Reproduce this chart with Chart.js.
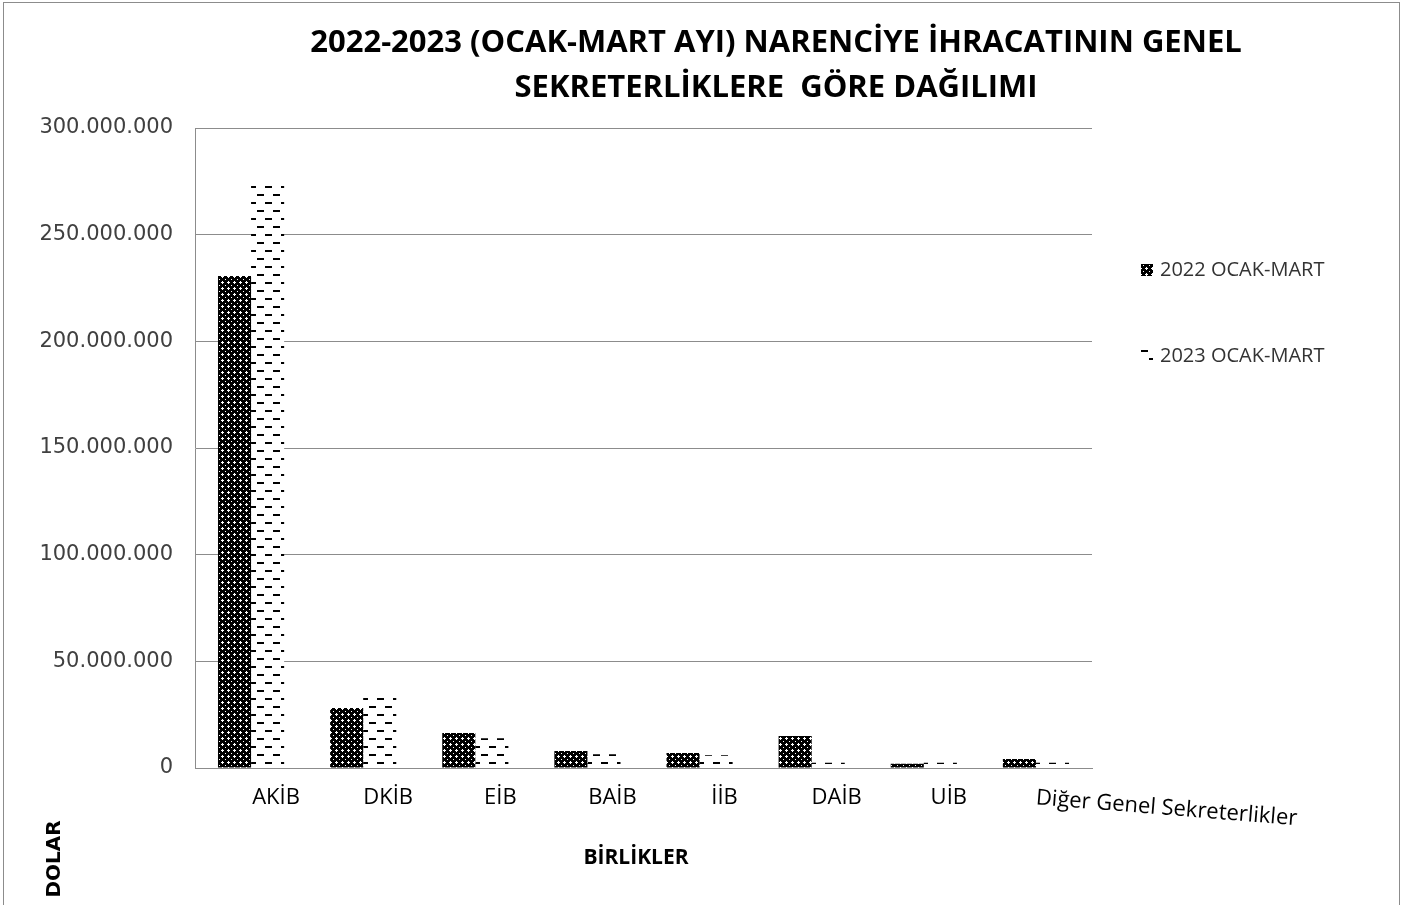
<!DOCTYPE html>
<html>
<head>
<meta charset="utf-8">
<script src="https://cdn.jsdelivr.net/npm/chart.js@4/dist/chart.umd.min.js"></script>
<style>
  html, body { margin:0; padding:0; background:#fff; }
  canvas { display:block; }
</style>
</head>
<body>
<canvas id="chart" width="1408" height="905"></canvas>
<script>
// data
const categories = ["AKİB","DKİB","EİB","BAİB","İİB","DAİB","UİB","Diğer Genel Sekreterlikler"];
const seriesNames = ["2022 OCAK-MART","2023 OCAK-MART"];
const values2022 = [230600000, 28100000, 16400000, 8000000, 7000000, 15000000, 2000000, 4200000];
const values2023 = [272800000, 32800000, 14000000, 6500000, 6000000, 2500000, 2500000, 2500000];
const yTicks = [0, 50000000, 100000000, 150000000, 200000000, 250000000, 300000000];
const titleLines = ["2022-2023 (OCAK-MART AYI) NARENCİYE İHRACATININ GENEL","SEKRETERLİKLERE  GÖRE DAĞILIMI"];
const xTitle = "BİRLİKLER";
const yTitle = "DOLAR";

const GRID = "#8c8c8c";

// hatch patterns like the office chart fills
function checkPattern(){
  const c = document.createElement("canvas");
  c.width = 6; c.height = 6;
  const g = c.getContext("2d");
  g.fillStyle = "#000"; g.fillRect(0,0,6,6);
  g.fillStyle = "#fff";
  [[0,0],[1,0],[5,0],[0,1],[0,5],[3,3]].forEach(p => g.fillRect(p[0],p[1],1,1));
  return g.createPattern(c, "repeat");
}
function dashPattern(){
  const c = document.createElement("canvas");
  c.width = 16; c.height = 16;
  const g = c.getContext("2d");
  g.fillStyle = "#fff"; g.fillRect(0,0,16,16);
  g.fillStyle = "#000";
  g.fillRect(1,2,7,2);
  g.fillRect(9,10,7,2);
  return g.createPattern(c, "repeat");
}
const fills = [checkPattern(), dashPattern()];

function fmt(v){
  return String(v).replace(/\B(?=(\d{3})+(?!\d))/g, ".");
}

const decor = {
  id: "decor",
  beforeDraw(chart){
    const ctx = chart.ctx;
    ctx.save();
    ctx.fillStyle = "#fff";
    ctx.fillRect(0,0,chart.width,chart.height);
    ctx.strokeStyle = GRID;
    ctx.lineWidth = 1;
    ctx.strokeRect(3.5, 2.5, 1396, 910);
    ctx.restore();
  },
  afterDraw(chart){
    const ctx = chart.ctx;
    const x = chart.scales.x;
    ctx.save();
    // title
    ctx.fillStyle = "#000";
    ctx.textAlign = "center";
    ctx.textBaseline = "middle";
    ctx.font = "bold 31px 'Open Sans'";
    ctx.fillText(titleLines[0], 776, 43);
    ctx.fillText(titleLines[1], 776, 88);

    // category labels, shifted right like the reference
    ctx.font = "22px 'Open Sans'";
    ctx.fillStyle = "#000";
    categories.forEach((lab, i) => {
      const px = x.getPixelForValue(i);
      if (i === categories.length - 1) {
        ctx.save();
        ctx.translate(px, 798);
        ctx.rotate(0.08);
        ctx.textAlign = "left";
        ctx.fillText(lab, 0, 0);
        ctx.restore();
      } else {
        ctx.textAlign = "center";
        ctx.fillText(lab, px + 25, 798);
      }
    });

    // axis titles
    ctx.font = "bold 21px 'Open Sans'";
    ctx.textAlign = "center";
    ctx.fillText(xTitle, 636, 858);
    ctx.save();
    ctx.translate(55, 859);
    ctx.rotate(-Math.PI/2);
    ctx.font = "bold 20px 'DejaVu Sans'";
    ctx.fillText(yTitle, 0, 0);
    ctx.restore();

    // legend
    ctx.font = "20px 'Open Sans'";
    ctx.textAlign = "left";
    const ly = [270, 356];
    chart.data.datasets.forEach((ds, i) => {
      ctx.save();
      ctx.translate(1140, ly[i] - 8);
      ctx.fillStyle = ds.backgroundColor;
      ctx.fillRect(1, 2, 12, 12);
      ctx.restore();
      ctx.fillStyle = "#333";
      ctx.fillText(ds.label, 1160, ly[i]);
    });
    ctx.restore();
  }
};

new Chart(document.getElementById("chart"), {
  type: "bar",
  data: {
    labels: categories,
    datasets: [
      { label: seriesNames[0], data: values2022, backgroundColor: fills[0], borderWidth: 0 },
      { label: seriesNames[1], data: values2023, backgroundColor: fills[1], borderWidth: 0 }
    ]
  },
  options: {
    responsive: false,
    animation: false,
    layout: { padding: { top: 128, right: 316, left: 0, bottom: 0 } },
    datasets: { bar: { categoryPercentage: 0.59, barPercentage: 1 } },
    plugins: { legend: { display: false }, title: { display: false }, tooltip: { enabled: false } },
    scales: {
      x: {
        ticks: { display: false },
        grid: { display: false },
        border: { color: GRID, width: 1 },
        afterFit(s){ s.height = 137; }
      },
      y: {
        min: 0, max: 300000000,
        afterBuildTicks(s){ s.ticks = yTicks.map(v => ({ value: v })); },
        ticks: {
          callback: v => fmt(v),
          font: { family: "'DejaVu Sans'", size: 21 },
          color: "#404040",
          padding: 22
        },
        grid: { color: GRID, drawTicks: false },
        border: { color: GRID, width: 1 },
        afterFit(s){ s.width = 195; }
      }
    }
  },
  plugins: [decor]
});
</script>
</body>
</html>
